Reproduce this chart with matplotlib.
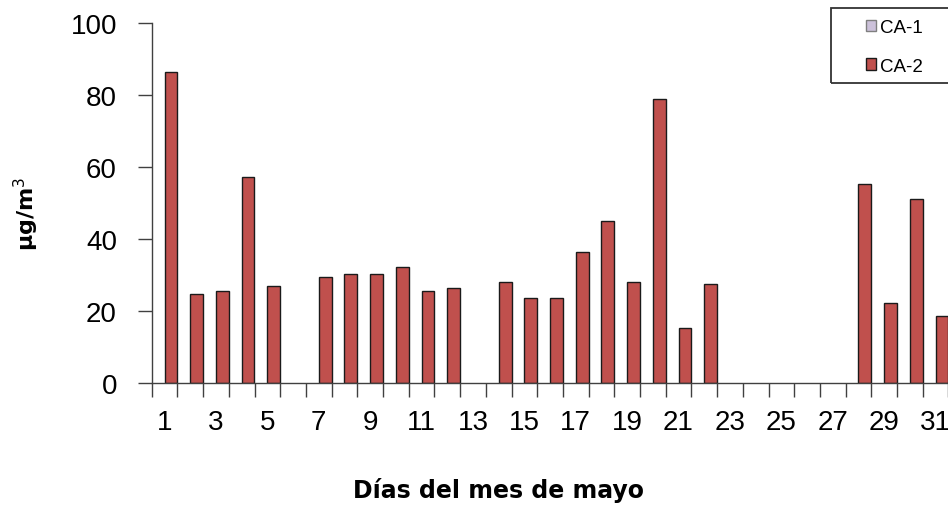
import numpy as np
import matplotlib
matplotlib.use("Agg")
import matplotlib.pyplot as plt
from matplotlib.patches import Patch, Rectangle

plt.rcParams['font.family'] = ['Liberation Sans', 'DejaVu Sans']

# Daily concentrations for May (µg/m³); NaN = no measurement
days = list(range(1, 32))
ca1 = [np.nan] * 31
ca2 = [86.3, 24.7, 25.5, 57.1, 26.9, np.nan, 29.4, 30.4, 30.4, 32.2,
       25.5, 26.4, np.nan, 28.0, 23.6, 23.6, 36.5, 45.0, 28.0, 78.8,
       15.2, 27.5, np.nan, np.nan, np.nan, np.nan, np.nan, 55.3, 22.2, 51.1,
       18.6]
yticks = [0, 20, 40, 60, 80, 100]
xtick_labels = [str(d) for d in days[::2]]

c1_face, c1_edge = '#CCC1DA', '#7F7F7F'
c2_face, c2_edge = '#C0504D', '#1A1A1A'
axis_col = '#404040'

fig = plt.figure(figsize=(9.48, 5.06), dpi=100)
ax = fig.add_axes([151.7 / 948, 1 - 384 / 506, 796.7 / 948, 360 / 506])

x = np.array(days, dtype=float)
ax.bar(x - 0.5, ca1, width=0.5, align='edge', color=c1_face,
       edgecolor=c1_edge, linewidth=1.0)
ax.bar(x, ca2, width=0.5, align='edge', color=c2_face,
       edgecolor=c2_edge, linewidth=1.0)

ax.set_xlim(0.5, 31.5)
ax.set_ylim(0, 100)

ax.set_yticks(yticks)
ax.set_yticklabels([str(v) for v in yticks])
ax.set_xticks(x[::2])
ax.set_xticklabels(xtick_labels)
ax.set_xticks(np.arange(0.5, 32, 1.0), minor=True)

ax.tick_params(axis='y', direction='out', length=10, width=1.0,
               color=axis_col, labelsize=20, pad=15)
ax.tick_params(axis='x', which='major', length=0, labelsize=20, pad=19)
ax.tick_params(axis='x', which='minor', direction='out', length=10,
               width=1.0, color=axis_col)

for side in ('top', 'right'):
    ax.spines[side].set_visible(False)
for side in ('left', 'bottom'):
    ax.spines[side].set_color(axis_col)
    ax.spines[side].set_linewidth(1.0)

fig.text(26 / 948, 1 - 214 / 506, 'µg/m$^{3}$', rotation=90, ha='center',
         va='center', fontsize=16, fontweight='bold', family=['DejaVu Sans'])
fig.text(499 / 948, 1 - 491 / 506, 'Días del mes de mayo', ha='center',
         va='center', fontsize=17, fontweight='bold', family=['DejaVu Sans'])

# Legend frame and entries
fig.patches.append(Rectangle((831 / 948, 1 - 84.3 / 506), 0.2, 75 / 506,
                             transform=fig.transFigure, fill=False,
                             edgecolor='#333333', linewidth=1.3))
handles = [Patch(facecolor=c1_face, edgecolor=c1_edge, label='CA-1'),
           Patch(facecolor=c2_face, edgecolor=c2_edge, label='CA-2')]
fig.legend(handles=handles, loc='upper left',
           bbox_to_anchor=(866 / 948, 1 - 20 / 506), frameon=False,
           fontsize=13.5, handlelength=0.55, handleheight=0.55,
           handletextpad=0.2, labelspacing=1.15, borderpad=0,
           borderaxespad=0)

fig.savefig('out.png', dpi=100)
